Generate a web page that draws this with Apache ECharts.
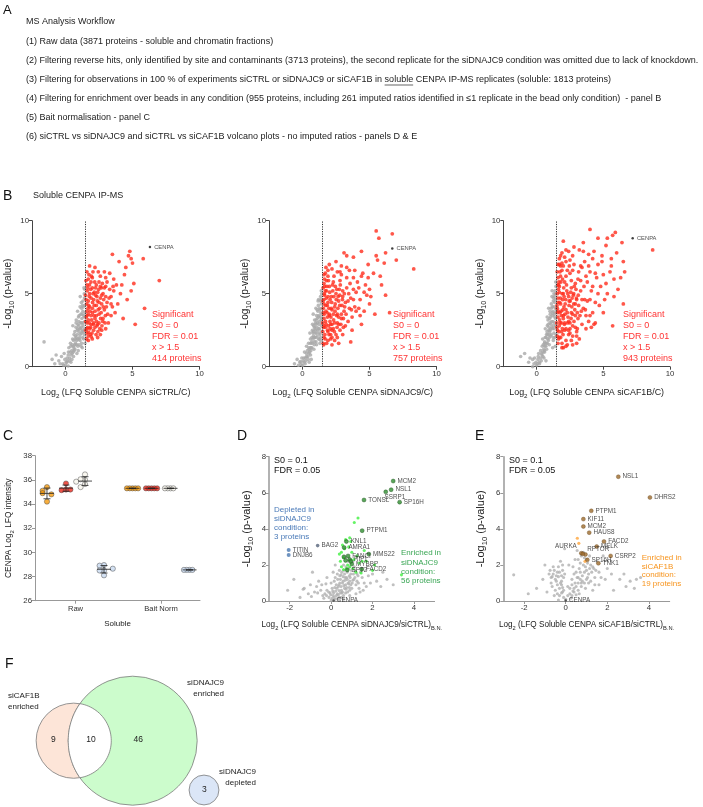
<!DOCTYPE html>
<html><head><meta charset="utf-8">
<script src="https://cdn.jsdelivr.net/npm/echarts@6/dist/echarts.min.js"></script>
<style>html,body{margin:0;padding:0;background:#fff}#c{width:703px;height:807px}</style>
</head><body><div id="c"></div>
<script>
// ---------------- DATA ----------------
const workflowTitle = 'MS Analysis Workflow';
const workflowSteps = [
 '(1) Raw data (3871 proteins - soluble and chromatin fractions)',
 '(2) Filtering reverse hits, only identified by site and contaminants (3713 proteins), the second replicate for the siDNAJC9 condition was omitted due to lack of knockdown.',
 '(3) Filtering for observations in 100 % of experiments siCTRL or siDNAJC9 or siCAF1B in soluble CENPA IP-MS replicates (soluble: 1813 proteins)',
 '(4) Filtering for enrichment over beads in any condition (955 proteins, including 261 imputed ratios identified in \u22641 replicate in the bead only condition)  - panel B',
 '(5) Bait normalisation - panel C',
 '(6) siCTRL vs siDNAJC9 and siCTRL vs siCAF1B volcano plots - no imputed ratios - panels D & E'
];

// Panel B
const bTitles = ['siCTRL/C','siDNAJC9/C','siCAF1B/C'];
const bSigCounts = [414, 757, 943];
const bThreshold = 1.5;
const bCenpa = [[6.3,8.2],[6.7,8.1],[7.2,8.8]];
const bCtrlSig = [[4.8,7.9],[4.7,7.6],[4.0,7.2],[3.5,7.7],[4.9,7.4],[5.8,7.4],[4.5,6.8],[5.0,7.1],[4.4,6.3],[7.0,5.9],[5.2,2.9],[5.9,4.0],[5.1,5.7],[4.9,5.2],[4.2,5.6],[4.3,3.3],[3.4,4.8],[3.7,3.7],[3.9,4.3],[3.3,6.4],[2.9,6.5],[2.6,6.2],[2.2,6.8],[1.8,6.9],[2.0,6.1],[2.5,5.8],[3.0,5.5],[3.6,5.2],[3.8,5.6],[4.6,4.6],[2.4,2.0],[2.7,2.5],[2.0,1.9],[1.7,1.8],[1.6,2.3],[1.9,2.9],[2.2,3.3],[1.6,3.8],[1.7,4.5],[1.8,5.0],[2.0,5.4],[1.6,5.6],[1.7,6.0],[2.3,4.2],[2.5,3.6],[2.6,4.7],[2.8,5.0],[2.9,3.9],[3.1,4.4],[3.2,3.0],[3.0,2.6],[2.1,2.5],[1.9,3.5],[1.6,3.0],[1.8,4.1],[2.4,5.1],[2.7,4.3],[3.3,5.3],[2.1,4.6],[1.5,4.9],[1.55,3.4],[1.65,2.7],[2.2,3.8],[2.5,3.0],[2.8,3.3],[3.5,4.1],[3.1,5.8],[2.3,5.6],[1.9,5.8],[2.6,2.2],[3.4,3.5],[1.7,3.6],[2.0,4.0],[2.35,2.8],[1.85,2.2],[3.0,4.8],[2.15,5.1],[2.75,5.7],[3.6,6.0],[4.1,5.0],
 [1.52,2.5],[1.58,4.3],[1.62,5.2],[1.7,3.2],[1.78,4.8],[1.82,2.6],[1.88,5.3],[1.95,3.2],[2.02,4.4],[2.08,2.9],[2.12,3.5],[2.18,5.8],[2.25,4.9],[2.32,3.1],[2.38,4.5],[2.42,2.4],[2.48,5.3],[2.55,4.0],[2.62,3.3],[2.68,5.4],[2.72,2.8],[2.85,4.6],[2.95,3.0],[1.53,5.9],[1.57,1.9],[1.68,4.0],[1.92,2.05],[2.28,2.2],[2.05,6.5],[1.75,6.3],
 [1.51,3.1],[1.54,4.6],[1.59,2.6],[1.61,3.5],[1.66,5.4],[1.69,2.1],[1.73,4.2],[1.76,3.0],[1.79,5.6],[1.83,3.8],[1.87,2.7],[1.91,4.7],[1.94,6.2],[1.98,2.3],[2.01,3.7],[2.06,5.0],[2.1,3.0],[2.14,4.2],[2.2,2.7],[2.24,5.4],[2.3,3.5],[2.34,4.8],[2.4,2.9],[2.44,3.9],[2.5,4.4],[2.56,2.6],[2.6,5.5],[2.66,3.7],[2.7,4.9],[2.78,3.1],[2.82,4.1],[2.9,5.4],[2.98,3.5],[3.05,4.1],[3.15,3.6],[3.25,4.7],[3.4,4.3],[3.55,5.5],[3.0,6.1],[2.45,6.5],[1.6,6.5],[1.72,2.35]];
const bCtrlNs = [[0,0.1],[0.1,0.3],[-0.2,0.2],[0.2,0.05],[0.3,0.6],[-0.5,0.4],[-0.8,0.2],[-1.0,0.5],[-0.3,0.7],[0.5,0.9],[0.4,1.4],[0.6,1.8],[0.7,1.2],[0.8,2.0],[0.9,2.6],[1.0,1.5],[1.1,2.2],[1.2,3.0],[1.3,2.5],[1.4,3.4],[1.0,3.1],[0.9,3.8],[1.2,4.0],[1.3,4.5],[1.4,5.0],[1.1,4.8],[1.45,4.2],[1.35,1.9],[1.2,1.6],[0.95,1.1],[0.6,0.7],[0.35,1.0],[0.2,0.8],[0.7,2.4],[0.8,3.2],[1.0,2.4],[1.15,3.6],[1.3,3.8],[1.4,2.2],[0.5,1.5],[0.15,0.4],[-0.1,0.9],[0.55,2.8],[0.75,1.6],[0.85,0.9],[1.05,2.0],[1.25,1.3],[1.45,1.6],[0.4,0.3],[0.65,1.1],[1.38,5.4],[-1.6,1.7],[-0.7,0.8],[0.25,1.3],[1.18,2.7],[0.9,1.9],
 [0.62,1.3],[0.72,1.9],[0.82,1.5],[0.88,2.2],[0.98,2.8],[1.08,1.8],[1.12,2.6],[1.22,3.3],[1.28,2.0],[1.32,3.0],[1.42,2.6],[1.02,3.5],[1.18,4.4],[0.78,2.7],[0.58,1.0],[0.48,0.5],[1.33,4.1],[1.44,3.1],[0.92,1.4],[1.25,2.4],
 [1.46,3.7],[1.41,4.7],[1.36,3.5],[1.31,2.8],[1.27,4.2],[1.23,3.6],[1.19,2.3],[1.14,3.0],[1.09,4.1],[1.06,2.6],[1.01,1.9],[0.97,3.4],[0.93,2.9],[0.87,2.5],[0.83,1.8],[0.79,3.0],[0.74,2.1],[0.69,1.5],[0.64,2.2],[0.59,1.4],[0.53,1.9],[0.47,1.1],[0.42,0.8],[0.37,1.6],[0.3,0.4],[0.22,1.0],[0.12,0.6],[0.05,0.3],[-0.05,0.5],[-0.15,0.1],[-0.4,0.2],[1.43,5.3],[1.37,2.4],[1.16,1.4]];
const bDnaSig = [[5.5,9.3],[6.7,9.1],[5.7,8.8],[6.2,7.8],[5.5,7.6],[5.6,7.3],[7.0,7.3],[6.1,7.1],[8.3,6.7],[4.4,7.9],[3.1,7.8],[3.3,7.6],[3.8,7.5],[4.9,6.1],[5.0,5.3],[5.9,5.6],[6.2,4.9],[5.4,3.6],[4.3,3.5],[5.0,4.3],[4.6,3.8],[3.6,1.7],[6.5,3.7],[4.0,5.1],[4.7,5.6],[4.3,4.6],[3.8,6.1],[3.5,6.6],[2.9,6.9],[2.6,6.5],[2.2,6.7],[1.9,6.2],[2.3,5.8],[2.8,5.9],[3.3,5.4],[3.6,4.7],[3.9,4.1],[3.1,3.8],[2.6,3.0],[2.1,2.2],[1.8,1.6],[2.4,1.8],[1.6,2.0],[1.7,2.7],[1.6,3.3],[1.55,4.0],[1.6,4.6],[1.7,5.2],[1.9,4.4],[2.0,3.6],[2.2,2.9],[2.4,4.1],[2.5,5.0],[2.7,4.5],[2.9,3.6],[3.2,4.4],[3.0,5.2],[2.0,5.5],[1.8,5.9],[1.6,5.7],[2.35,6.2],[3.4,3.1],[2.8,2.5],[3.7,3.4],[1.9,2.4],[1.55,1.6],[1.75,3.8],[2.15,4.8],[2.55,3.5],[2.05,3.1],[1.65,4.9],[2.75,5.3],[3.45,5.0],[4.1,5.8],[4.5,6.4],[3.2,2.8],[1.85,4.2],[2.3,2.6],[2.6,2.0],[3.0,4.8],[2.45,5.5],[1.7,6.4],[3.9,6.6],[4.8,4.9],[5.3,6.4],[2.1,1.9],[1.6,2.8],[2.9,6.3],[3.5,4.0],[4.2,4.0],[2.2,3.9],
 [1.52,2.4],[1.56,3.7],[1.6,4.3],[1.63,5.0],[1.67,2.2],[1.72,3.1],[1.78,4.7],[1.82,5.5],[1.86,3.4],[1.93,2.8],[1.97,4.0],[2.03,5.1],[2.08,2.6],[2.12,3.4],[2.18,4.4],[2.26,5.2],[2.32,3.2],[2.38,2.4],[2.43,3.8],[2.52,4.6],[2.58,2.7],[2.64,4.0],[2.7,3.4],[2.78,4.9],[2.86,2.9],[2.95,4.2],[3.05,3.3],[3.12,5.0],[1.54,5.4],[1.64,6.0],[1.9,6.6],[2.2,2.0],[1.58,1.5],[2.8,6.5],[3.3,6.1],[3.8,5.3],
 [1.51,3.0],[1.53,4.5],[1.57,2.7],[1.61,3.6],[1.65,5.5],[1.69,1.9],[1.73,4.2],[1.76,2.9],[1.79,5.2],[1.83,3.7],[1.87,2.5],[1.91,4.8],[1.94,5.9],[1.98,2.2],[2.01,3.5],[2.06,4.6],[2.1,2.9],[2.14,4.0],[2.2,2.5],[2.24,5.6],[2.3,3.6],[2.34,4.8],[2.4,3.0],[2.44,4.3],[2.5,2.2],[2.56,5.3],[2.6,3.6],[2.66,4.8],[2.7,2.9],[2.78,4.2],[2.82,5.6],[2.9,3.3],[2.98,4.6],[3.05,2.7],[3.15,4.1],[3.25,3.6],[3.4,4.5],[3.55,5.7],[3.65,3.9],[3.8,4.6],[4.0,3.8],[4.2,5.4],[4.4,6.2],[4.6,5.1],[3.3,6.8],[2.5,7.2],[2.0,7.0],[1.75,6.8],[1.6,6.3],[3.0,2.2],[2.7,1.6],[2.2,1.5],[1.9,1.8],[3.7,2.5],[4.4,2.9],[5.1,4.8],[5.8,6.2],[4.9,7.0]];
const bDnaNs = [[0,0.1],[-0.2,0.3],[0.2,0.2],[-0.4,0.5],[0.1,0.6],[0.3,0.9],[0.5,1.2],[0.4,0.7],[0.6,1.6],[0.7,2.0],[0.8,2.4],[0.9,1.7],[1.0,2.9],[1.1,3.3],[1.2,2.6],[1.3,3.9],[1.4,4.3],[1.35,2.0],[1.2,4.6],[1.4,5.2],[1.0,4.0],[0.9,3.2],[0.75,2.9],[1.1,2.1],[1.25,3.1],[1.45,3.6],[1.3,1.6],[0.85,1.2],[0.6,0.8],[0.25,0.4],[-0.1,0.15],[0.15,1.0],[0.55,2.3],[0.95,2.3],[1.15,3.8],[1.05,1.5],[0.7,1.3],[0.45,1.6],[1.4,2.8],[1.35,4.8],[0.8,3.6],[1.0,2.0],[0.3,1.4],[-0.6,0.2],[0.65,0.5],[1.2,1.9],[1.45,4.0],[0.9,2.7],[0.5,0.3],[1.05,3.5],[1.25,2.3],[1.38,3.2],
 [0.62,1.1],[0.72,1.6],[0.82,2.1],[0.88,1.5],[0.98,2.5],[1.08,2.7],[1.12,3.0],[1.22,3.5],[1.28,2.6],[1.32,3.4],[1.42,2.4],[1.02,3.2],[1.18,4.2],[0.78,2.3],[0.58,1.3],[0.48,0.9],[1.33,4.5],[1.44,3.0],[0.92,2.0],[1.25,1.9],
 [1.46,3.3],[1.41,4.6],[1.36,3.7],[1.31,2.2],[1.27,4.0],[1.23,2.9],[1.19,3.4],[1.14,2.5],[1.09,3.9],[1.06,2.3],[1.01,1.7],[0.97,3.0],[0.93,2.6],[0.87,2.0],[0.83,2.8],[0.79,1.9],[0.74,2.5],[0.69,1.7],[0.64,1.3],[0.59,1.9],[0.53,1.0],[0.47,1.3],[0.42,0.5],[0.37,1.1],[0.3,0.7],[0.22,0.6],[0.12,0.3],[0.05,0.4],[-0.05,0.6],[-0.15,0.35],[-0.3,0.1],[1.43,5.0],[1.37,1.8],[1.16,4.5]];
const bCafSig = [[4.0,9.4],[5.9,9.2],[5.7,9.0],[4.6,8.8],[6.4,8.5],[5.3,8.8],[2.0,8.6],[3.5,8.5],[8.7,8.0],[6.6,6.5],[6.3,6.1],[6.5,4.3],[5.8,4.8],[5.3,5.0],[4.7,4.2],[4.4,4.4],[4.2,3.7],[3.7,3.5],[4.3,2.9],[5.7,2.8],[3.4,2.9],[2.9,2.7],[5.0,6.3],[5.6,6.9],[5.6,7.4],[4.9,7.6],[4.3,7.9],[3.9,7.7],[3.2,8.0],[2.7,7.6],[2.4,7.9],[1.9,7.8],[1.7,7.4],[2.2,7.2],[2.8,7.0],[3.4,6.8],[4.0,6.5],[4.5,6.1],[3.8,5.8],[3.1,6.0],[2.5,6.4],[1.9,6.6],[1.6,6.1],[1.7,5.5],[2.1,5.8],[2.6,5.4],[3.3,5.2],[3.6,4.6],[2.9,4.3],[2.4,4.8],[2.0,5.0],[1.6,4.7],[1.55,4.0],[1.8,4.3],[2.2,3.9],[2.7,3.6],[3.1,3.3],[2.5,3.0],[2.0,3.3],[1.6,3.4],[1.7,2.8],[2.1,2.5],[2.4,2.2],[1.8,2.0],[1.6,1.6],[2.0,1.3],[2.6,1.8],[3.0,2.1],[1.9,1.6],[2.3,1.5],[1.65,2.4],[1.75,3.7],[1.95,4.6],[2.35,3.4],[2.75,4.9],[3.5,4.0],[3.9,3.1],[4.8,5.5],[4.1,5.2],[2.9,5.7],[2.2,6.2],[1.8,6.9],[3.6,7.2],[4.6,7.0],[3.0,4.6],[1.7,5.1],[2.5,2.6],[1.55,2.1],[2.05,4.1],[2.6,5.9],[3.35,3.8],[4.0,4.6],[1.85,3.0],[2.45,6.9],[3.15,6.5],[5.2,5.7],[2.8,3.1],[3.7,6.2],[1.6,7.0],[2.1,7.5],
 [1.52,2.7],[1.56,3.7],[1.6,4.4],[1.63,5.3],[1.67,5.8],[1.72,3.2],[1.78,4.7],[1.82,5.8],[1.86,3.5],[1.93,2.6],[1.97,3.9],[2.03,5.4],[2.08,2.9],[2.12,3.6],[2.18,4.6],[2.26,5.2],[2.32,3.0],[2.38,2.5],[2.43,4.2],[2.52,4.5],[2.58,3.3],[2.64,4.1],[2.7,2.8],[2.78,5.0],[2.86,3.9],[2.95,5.3],[3.05,3.7],[3.12,4.9],[1.54,6.5],[1.64,1.9],[1.9,7.1],[2.3,6.6],[1.7,7.0],[2.7,6.6],[3.3,5.9],[3.0,1.6],[1.55,5.0],[2.2,1.8],
 [1.51,3.0],[1.53,4.2],[1.57,2.5],[1.61,3.8],[1.65,5.6],[1.69,2.0],[1.73,4.4],[1.76,3.0],[1.79,6.2],[1.83,3.8],[1.87,2.4],[1.91,5.0],[1.94,6.0],[1.98,2.2],[2.01,3.5],[2.06,4.8],[2.1,3.0],[2.14,4.3],[2.2,2.6],[2.24,5.6],[2.3,3.7],[2.34,5.0],[2.4,3.1],[2.44,4.5],[2.5,2.3],[2.56,5.1],[2.6,3.7],[2.66,4.7],[2.7,2.1],[2.78,4.3],[2.82,5.5],[2.9,3.5],[2.98,4.7],[3.05,2.6],[3.15,4.2],[3.25,3.5],[3.4,4.6],[3.55,5.5],[3.65,3.9],[3.8,4.5],[4.0,3.5],[4.2,5.5],[4.4,6.4],[4.6,5.0],[3.3,6.9],[2.5,7.3],[2.0,6.9],[1.75,6.5],[1.6,5.6],[3.0,2.4],[2.7,1.5],[2.2,1.4],[1.9,1.3],[3.7,2.6],[4.4,3.0],[5.1,4.6],[5.8,6.0],[4.9,7.2],[3.5,7.9],[2.8,8.2],[2.2,8.0],[1.8,7.6],[3.9,6.9],[4.2,7.4],[5.2,8.3],[6.0,7.8],[6.5,7.2],[5.5,6.5],[6.1,5.3],[5.0,3.7],[4.1,2.7],[3.2,1.9]];
const bCafNs = [[-0.3,0.0],[0,0.1],[0.2,0.3],[-0.5,0.6],[0.1,0.5],[-0.2,0.2],[0.4,0.8],[0.3,1.1],[0.5,1.5],[0.6,1.0],[0.7,2.0],[0.8,1.6],[0.9,2.5],[1.0,3.0],[1.1,2.2],[1.2,3.5],[1.3,4.1],[1.4,4.6],[1.45,5.5],[1.3,5.0],[1.1,4.3],[1.0,3.8],[0.85,3.2],[1.2,2.6],[1.35,3.0],[1.45,2.2],[1.4,3.7],[1.25,1.8],[0.95,1.5],[0.75,1.2],[0.55,0.6],[0.35,0.4],[0.65,2.6],[0.95,2.0],[1.15,4.8],[1.4,1.4],[0.45,1.9],[0.8,2.8],[1.05,2.6],[1.3,2.3],[1.35,4.4],[-0.9,0.9],[-0.3,0.5],[0.15,0.9],[0.6,1.7],[1.2,1.3],[1.45,4.0],[1.05,3.4],[0.9,4.0],[1.25,4.5],[0.7,0.4],[1.38,5.2],
 [0.62,1.4],[0.72,1.6],[0.82,2.2],[0.88,1.8],[0.98,2.4],[1.08,2.9],[1.12,3.1],[1.22,3.8],[1.28,2.8],[1.32,3.6],[1.42,3.3],[1.02,3.6],[1.18,4.1],[0.78,2.4],[0.58,1.1],[0.48,1.0],[1.33,4.8],[1.44,2.8],[0.92,2.7],[1.25,2.0],
 [1.46,3.9],[1.41,5.0],[1.36,3.4],[1.31,2.6],[1.27,4.7],[1.23,3.1],[1.19,3.7],[1.14,2.7],[1.09,4.0],[1.06,2.1],[1.01,2.5],[0.97,3.3],[0.93,2.2],[0.87,2.9],[0.83,1.9],[0.79,3.4],[0.74,2.2],[0.69,1.4],[0.64,2.0],[0.59,1.6],[0.53,1.2],[0.47,0.7],[0.42,1.4],[0.37,0.9],[0.3,0.6],[0.22,0.2],[0.12,0.7],[0.05,0.2],[-0.05,0.3],[-0.15,0.6],[-0.6,0.3],[1.43,5.8],[1.37,2.0],[1.16,5.2],[-1.2,0.7]];

// Panel C
const cGroups = ['Raw', 'Bait Norm'];
const cConditions = ['siCAF1B', 'siDNAJC9', 'siCTRL', 'Beads'];
const cRawCAF1B = [35.4, 35.1, 34.9, 34.8, 34.2];
const cRawDNAJC9 = [35.7, 35.2, 35.15, 35.2];
const cRawCTRL = [36.45, 36.0, 36.05, 35.65, 35.4, 35.85];
const cRawBeads = [28.95, 28.9, 28.5, 28.5, 28.1, 28.65];
const cNormCAF1B = [35.3, 35.3, 35.3, 35.3, 35.3];
const cNormDNAJC9 = [35.3, 35.3, 35.3, 35.3, 35.3];
const cNormCTRL = [35.3, 35.3, 35.3, 35.3];
const cNormBeads = [28.55, 28.55, 28.55, 28.55];

// Panel D
const dGray = [[0,0.05],[0.2,0.1],[0.4,0.2],[0.6,0.3],[0.8,0.5],[1.0,0.7],[0.3,0.4],[0.5,0.6],[0.7,0.9],[0.9,1.1],[0.1,0.3],[-0.1,0.2],[-0.3,0.4],[-0.5,0.6],[-0.7,0.8],[-0.2,0.6],[0.35,0.8],[0.55,1.0],[0.75,1.3],[0.95,1.5],[1.1,1.2],[1.2,0.9],[1.3,1.4],[0.45,1.2],[0.65,1.5],[0.25,0.9],[0.15,1.1],[0.05,0.7],[-0.4,0.3],[-0.8,0.5],[-1.0,0.9],[-0.6,1.1],[-1.3,0.7],[-0.9,1.6],[0.85,1.8],[0.6,2.0],[0.4,1.7],[1.05,2.2],[1.5,1.3],[1.7,0.8],[1.4,0.5],[2.2,1.1],[2.7,1.2],[2.4,0.8],[2.0,1.5],[-1.5,0.2],[-2.1,0.6],[0.9,0.3],[1.2,0.4],[0.5,0.2],[-0.2,1.3],[0.3,1.5],[0.0,1.0],[0.7,2.4],[0.2,2.0],[1.6,1.0],[-1.8,1.2],[-1.1,0.4],[0.1,1.6],[1.15,1.7],[0.32,0.15],[0.52,0.45],[0.72,0.65],[0.62,0.85],[0.82,1.0],[0.42,1.0],[0.22,0.55],[1.02,1.0],[0.88,0.75],[0.38,0.58],[0.68,1.15],[0.78,1.6],[0.58,1.35],[0.12,0.45],[-0.05,0.45],[1.25,1.1],[1.35,0.7],[1.8,1.4],[2.5,1.6],[3.0,0.9],[-0.45,0.9],[-0.25,0.95],[-0.65,0.45],[0.48,1.45],[0.92,1.3],
 [0.05,0.15],[0.15,0.2],[0.25,0.3],[0.35,0.35],[0.45,0.45],[0.55,0.5],[0.65,0.7],[0.75,0.75],[0.85,0.95],[0.95,0.9],[1.05,1.15],[1.15,1.3],[1.25,1.5],[0.28,0.7],[0.38,0.9],[0.48,0.8],[0.58,1.1],[0.68,1.3],[0.78,1.2],[0.88,1.4],[0.98,1.7],[1.08,1.5],[0.18,0.75],[0.08,0.55],[-0.02,0.35],[-0.12,0.5],[-0.22,0.3],[0.62,1.7],[0.72,1.9],[0.52,1.6],[0.42,1.4],[0.32,1.2],[0.82,2.2],[1.12,1.9],[1.32,1.0],[1.42,1.6],[0.9,0.6],[0.7,0.45],[0.4,0.05],[0.6,0.1],[-0.35,0.15],[0.2,1.3],[1.55,0.6],[1.9,1.0],[-1.35,0.65],[-0.95,0.25]];
const dEnrichedLight = [[1.3,4.6],[1.12,4.35],[0.95,3.3],[0.55,3.1],[0.5,2.7],[0.6,2.4],[0.45,2.2],[0.8,2.0],[0.9,1.9],[1.1,2.3],[1.35,2.1],[2.1,2.0],[2.0,1.7],[3.4,1.45],[1.6,2.8],[0.7,3.4],[0.75,1.8],[1.2,1.6],[0.4,2.6],[1.0,2.7],[1.5,2.2],[0.65,2.9],[1.7,2.2],[0.85,3.0],[0.5,1.9],[1.25,2.5],[0.6,1.75],[1.45,1.55],[0.9,3.5],[1.05,1.8]];
const dEnrichedNamed = [[3.0,6.65,'MCM2'],[2.9,6.17,'NSL1'],[2.64,6.05,'SSRP1'],[3.31,5.48,'SP16H'],[1.59,5.6,'TONSL'],[1.5,3.9,'PTPM1'],[0.74,3.3,'KNL1'],[0.63,2.96,'AMRA1'],[0.82,2.5,'FANCI'],[1.82,2.6,'MMS22'],[0.9,2.3,'RIF1'],[1.0,2.05,'MYBBP'],[0.78,1.72,'SPT2'],[1.48,1.76,'FACD2'],[0.62,2.45,''],[0.7,2.25,''],[0.95,2.2,'']];
const dDepleted = [[-2.05,2.83,'TITIN'],[-2.05,2.55,'DNJB6']];
const dOtherNamed = [[-0.65,3.07,'BAG2']];
const dCenpa = [[0.12,0.03,'CENPA']];
const dCounts = {enriched: 56, depleted: 3};

// Panel E
const eGray = [[-0.3,0.3],[-0.5,0.6],[-0.7,1.0],[-0.9,0.5],[-0.2,0.9],[0,0.1],[-0.1,1.3],[-0.4,1.6],[-0.6,1.9],[-0.25,2.2],[-0.05,2.9],[0.2,0.4],[0.4,0.7],[0.6,1.0],[0.8,1.4],[1.0,1.7],[1.2,2.0],[0.5,1.6],[0.7,2.1],[0.9,2.4],[0.3,1.2],[1.1,1.0],[1.4,1.3],[1.6,0.9],[1.9,1.2],[2.3,0.6],[2.6,1.2],[3.1,1.1],[3.4,1.2],[2.9,0.8],[3.6,1.3],[-1.1,1.2],[-1.4,0.7],[-1.8,0.4],[0.1,0.8],[0.65,0.4],[1.3,0.6],[0.45,2.3],[0.85,2.7],[1.15,2.5],[1.5,2.2],[1.8,2.5],[0.35,1.9],[-0.8,1.5],[-1.0,2.0],[0.15,2.0],[-0.35,0.05],[0.95,0.7],[1.25,1.6],[2.0,1.8],[-2.5,1.45],[0.55,2.8],[-0.15,1.7],[-0.45,1.1],[-0.55,0.3],[-0.15,0.5],[0.25,0.15],[0.5,0.35],[0.75,0.8],[0.7,1.2],[0.9,1.0],[1.05,1.3],[0.6,0.6],[0.35,0.55],[-0.65,1.35],[-0.35,1.35],[-0.2,1.1],[1.35,1.8],[1.6,1.6],[2.2,1.5],[2.8,1.5],[3.3,0.7],
 [-0.1,0.2],[-0.2,0.45],[-0.3,0.7],[-0.4,0.9],[-0.5,1.2],[-0.6,1.5],[-0.15,0.75],[-0.25,1.0],[-0.35,1.9],[-0.45,1.4],[-0.55,1.7],[-0.7,1.3],[-0.05,1.5],[-0.15,2.0],[-0.3,1.6],[-0.4,0.4],[-0.2,1.4],[-0.1,0.6],[-0.65,0.8],[-0.75,1.7],
 [0.3,0.3],[0.4,0.5],[0.5,0.8],[0.6,1.3],[0.7,1.6],[0.8,1.1],[0.9,1.6],[1.0,1.2],[1.1,1.5],[1.2,1.1],[0.45,1.0],[0.55,1.3],[0.65,1.8],[0.75,1.0],[0.85,2.0],[0.95,1.9],[1.05,2.1],[1.15,1.8],[1.3,1.9],[0.4,1.5],[0.3,0.9],[0.2,0.7],[0.1,0.3],[1.4,0.9],[1.7,1.3],[1.45,1.7],[0.6,2.3],[0.75,2.5],[1.0,2.3]];
const eEnrichedNamed = [[2.53,6.89,'NSL1'],[4.05,5.74,'DHRS2'],[1.23,5.0,'PTPM1'],[0.85,4.54,'KIF11'],[0.85,4.13,'MCM2'],[1.13,3.79,'HAUS8'],[1.84,3.3,'FACD2'],[1.49,3.02,'MELK'],[0.75,2.65,'AURKA'],[0.95,2.58,'RPTOR'],[2.16,2.5,'CSRP2'],[1.04,2.28,'SP16H'],[1.57,2.09,'TNK1'],[0.82,2.62,'']];
const eEnrichedLight = [[0.56,3.48],[0.63,3.2],[0.93,2.2]];
const eCenpa = [[0.0,0.03,'CENPA']];
const eCounts = {enriched: 19};

// Panel F (Venn counts)
const vennOnlyCAF1B = 9, vennBoth = 10, vennOnlyDNAJC9 = 46, vennDepleted = 3;

// ---------------- STYLE / BUILD ----------------
const FF = '"Liberation Sans", Arial, Helvetica, sans-serif';
const TXT = '#222';
function rich(fs){ return {a:{fontSize:fs, lineHeight:fs+5, color:TXT, fontFamily:FF}, s:{fontSize:Math.round(fs*0.7*10)/10, lineHeight:fs+5, verticalAlign:'bottom', color:TXT, fontFamily:FF}}; }
const yLogName = '{a|-Log}{s|10}{a| (p-value)}';

const grids = [
  {left:32, top:220.7, width:167.5, height:146},
  {left:269, top:220.7, width:167.5, height:146},
  {left:503.3, top:220.7, width:166.7, height:146},
  {left:35, top:455.7, width:165, height:145},
  {left:269, top:456.7, width:165.6, height:144.3},
  {left:503.3, top:456.7, width:166.4, height:144.3}
];
function axBase(color){ return {
  axisLine:{show:true, onZero:false, lineStyle:{color:color, width:1}},
  axisTick:{show:true, length:3, lineStyle:{color:color, width:1}},
  axisLabel:{fontSize:7.8, color:'#333', margin:3, fontFamily:FF},
  splitLine:{show:false}, nameTextStyle:{fontFamily:FF, color:TXT}
};}
const xAxes = [], yAxes = [], series = [];
// B
for (let i=0;i<3;i++){
  xAxes.push(Object.assign(axBase('#444'), {type:'value', gridIndex:i, min:-2.5, max:10,
    axisLabel:{fontSize:7.8, color:'#333', margin:3, fontFamily:FF, customValues:[0,5,10]},
    axisTick:{show:true,length:3,lineStyle:{color:'#444'},customValues:[0,5,10]},
    name:'{a|Log}{s|2}{a| (LFQ Soluble CENPA '+bTitles[i]+')}', nameLocation:'middle', nameGap:19,
    nameTextStyle:{rich:rich(8.9)}}));
  yAxes.push(Object.assign(axBase('#444'), {type:'value', gridIndex:i, min:0, max:10, interval:5,
    name:yLogName, nameLocation:'middle', nameGap:16, nameRotate:90, nameTextStyle:{rich:rich(10)}}));
}
const bSig = [bCtrlSig, bDnaSig, bCafSig], bNs = [bCtrlNs, bDnaNs, bCafNs];
for (let i=0;i<3;i++){
  series.push({type:'scatter', xAxisIndex:i, yAxisIndex:i, data:bNs[i], symbolSize:3.6, itemStyle:{color:'#a9a9a9'}, silent:true});
  series.push({type:'scatter', xAxisIndex:i, yAxisIndex:i, data:bSig[i], symbolSize:3.8, itemStyle:{color:'#ff2d1d'}, silent:true,
    markLine:{silent:true, symbol:['none','none'], label:{show:false}, lineStyle:{type:[1.2,1.2], color:'#333', width:1}, data:[{xAxis:bThreshold}]}});
  series.push({type:'scatter', xAxisIndex:i, yAxisIndex:i, data:[bCenpa[i]], symbolSize:2.5, itemStyle:{color:'#111'},
    label:{show:true, position:'right', distance:3, formatter:'CENPA', fontSize:5.8, color:'#222', fontFamily:FF}});
}
// C
const cSlot = (g,c) => g*4.5 + c;
xAxes.push(Object.assign(axBase('#999'), {type:'value', gridIndex:3, min:-0.63, max:8.05,
  axisTick:{show:true, length:3, lineStyle:{color:'#999'}, customValues:cGroups.map((g,gi)=>cSlot(gi,1.5))},
  axisLabel:{fontSize:7.6, color:'#333', margin:4, fontFamily:FF, customValues:cGroups.map((g,gi)=>cSlot(gi,1.5)),
    formatter:v=>cGroups[Math.round((v-1.5)/4.5)]},
  name:'Soluble', nameLocation:'middle', nameGap:19, nameTextStyle:{fontSize:8, color:TXT, fontFamily:FF}}));
yAxes.push(Object.assign(axBase('#999'), {type:'value', gridIndex:3, min:26, max:38, interval:2,
  name:'{a|CENPA Log}{s|2}{a| LFQ intensity}', nameLocation:'middle', nameGap:20, nameRotate:90, nameTextStyle:{rich:rich(8.4)}}));
const cColors = ['#f59a0c','#e8281c','#f7f5ec','#c8d9f0'];
const cData = [[cRawCAF1B,cRawDNAJC9,cRawCTRL,cRawBeads],[cNormCAF1B,cNormDNAJC9,cNormCTRL,cNormBeads]];
const errData = [];
function spread(vals, step){
  return vals.map((v,i)=>{ let n=0; for(let j=0;j<i;j++) if(Math.abs(vals[j]-v)<0.35) n++;
    const k = n===0?0:(n%2? -Math.ceil(n/2) : n/2); return k*step; });
}
cData.forEach((grp,gi)=>grp.forEach((vals,ci)=>{
  const offs = spread(vals, gi===0?4.4:2.8);
  series.push({type:'scatter', xAxisIndex:3, yAxisIndex:3, symbolSize:5.2, silent:true,
    itemStyle:{color:cColors[ci], borderColor:'#4a4a4a', borderWidth:0.6},
    data: vals.map((v,k)=>({value:[cSlot(gi,ci), v], symbolOffset:[offs[k],0]}))});
  const m = vals.reduce((a,b)=>a+b,0)/vals.length;
  const sd = Math.sqrt(vals.reduce((a,b)=>a+(b-m)*(b-m),0)/Math.max(1,vals.length-1));
  errData.push([cSlot(gi,ci), m, sd]);
}));
series.push({type:'custom', xAxisIndex:3, yAxisIndex:3, data:errData, z:5, silent:true,
  renderItem:(p,api)=>{
    const x=api.value(0), m=api.value(1), s=api.value(2);
    const c=api.coord([x,m]), t=api.coord([x,m+s]), b=api.coord([x,m-s]);
    const st={stroke:'#222', lineWidth:0.8};
    return {type:'group', children:[
      {type:'line', shape:{x1:c[0],y1:t[1],x2:c[0],y2:b[1]}, style:st},
      {type:'line', shape:{x1:c[0]-3.5,y1:t[1],x2:c[0]+3.5,y2:t[1]}, style:st},
      {type:'line', shape:{x1:c[0]-3.5,y1:b[1],x2:c[0]+3.5,y2:b[1]}, style:st},
      {type:'line', shape:{x1:c[0]-7,y1:c[1],x2:c[0]+7,y2:c[1]}, style:st}
    ]};
  }});
// D & E
const dexTitle = ['siDNAJC9/siCTRL','siCAF1B/siCTRL'];
for (let k=0;k<2;k++){
  const gi = 4+k;
  xAxes.push(Object.assign(axBase('#999'), {type:'value', gridIndex:gi, min:-3, max:5,
    axisTick:{show:true,length:3,lineStyle:{color:'#999'},customValues:[-2,0,2,4]},
    axisLabel:{fontSize:7.8, color:'#333', margin:3, fontFamily:FF, customValues:[-2,0,2,4]},
    name:'{a|Log}{s|2}{a| (LFQ Soluble CENPA '+dexTitle[k]+')}{s|B.N.}', nameLocation:'middle', nameGap:17,
    nameTextStyle:{rich:rich(8.2)}}));
  yAxes.push(Object.assign(axBase('#999'), {type:'value', gridIndex:gi, min:0, max:8, interval:2,
    axisLine:{show:true,onZero:false,lineStyle:{color:'#999',width:1.5}},
    name:yLogName, nameLocation:'middle', nameGap:14, nameRotate:90, nameTextStyle:{rich:rich(11)}}));
}
const lblStyle = {show:true, position:'right', distance:2, fontSize:6.3, color:'#222', fontFamily:FF, formatter:p=>p.data.value[2]};
const labelPos = {SSRP1:[1,5], AURKA:[-24,-8], RPTOR:[4,-6]};
function named(arr){ return arr.map(d=>{ const o={value:[d[0],d[1],d[2]]}; if(labelPos[d[2]]) o.label={position:labelPos[d[2]]}; return o; }); }
function gray(xi, arr){ return {type:'scatter', xAxisIndex:xi, yAxisIndex:xi, data:arr, symbolSize:3.1, itemStyle:{color:'#b0b0b0'}, silent:true}; }
series.push(gray(4, dGray));
series.push({type:'scatter', xAxisIndex:4, yAxisIndex:4, data:dEnrichedLight, symbolSize:3.1, itemStyle:{color:'#3ef03e'}, silent:true});
series.push({type:'scatter', xAxisIndex:4, yAxisIndex:4, data:named(dEnrichedNamed), symbolSize:4, itemStyle:{color:'#2f8f2f', borderColor:'#1c4d1c', borderWidth:0.5}, label:lblStyle, silent:true});
series.push({type:'scatter', xAxisIndex:4, yAxisIndex:4, data:named(dDepleted), symbolSize:4, itemStyle:{color:'#4a78b0'}, label:lblStyle, silent:true});
series.push({type:'scatter', xAxisIndex:4, yAxisIndex:4, data:named(dOtherNamed), symbolSize:3.6, itemStyle:{color:'#56647a'}, label:lblStyle, silent:true});
series.push({type:'scatter', xAxisIndex:4, yAxisIndex:4, data:named(dCenpa), symbolSize:2.5, itemStyle:{color:'#333'}, label:lblStyle, silent:true});
series.push(gray(5, eGray));
series.push({type:'scatter', xAxisIndex:5, yAxisIndex:5, data:eEnrichedLight, symbolSize:3.2, itemStyle:{color:'#ffa53c'}, silent:true});
series.push({type:'scatter', xAxisIndex:5, yAxisIndex:5, data:named(eEnrichedNamed), symbolSize:4, itemStyle:{color:'#9c6a2c', borderColor:'#5a3c14', borderWidth:0.4}, label:lblStyle, silent:true});
series.push({type:'scatter', xAxisIndex:5, yAxisIndex:5, data:named(eCenpa), symbolSize:2.5, itemStyle:{color:'#333'}, label:lblStyle, silent:true});

// ---------------- GRAPHIC (text, Venn) ----------------
const G = [];
function txt(x,y,text,fs,color,opt){ const st=Object.assign({text:text, fontSize:fs, fontFamily:FF, fill:color||TXT, align:'left', verticalAlign:'middle', textAlign:'left', textVerticalAlign:'middle'}, opt||{}); G.push({type:'text', x:x, y:y, silent:true, style:st}); }
// Panel A
const wfFs = 9, wfX = 26;
txt(3, 10, 'A', 13, '#111');
txt(wfX, 22, workflowTitle, wfFs);
workflowSteps.forEach((s,i)=>txt(wfX, 42+19*i, s, wfFs));
(function(){ const ctx=document.createElement('canvas').getContext('2d'); ctx.font=wfFs+'px "Liberation Sans"';
  const pre=workflowSteps[2].split('soluble')[0]; const ux=wfX+ctx.measureText(pre).width, uw=ctx.measureText('soluble').width;
  G.push({type:'line', silent:true, shape:{x1:ux,y1:42+19*2+5,x2:ux+uw,y2:42+19*2+5}, style:{stroke:'#222', lineWidth:0.7}}); })();
// Panel B
txt(3, 196, 'B', 14, '#111');
txt(33, 196, 'Soluble CENPA IP-MS', 9);
const sigX = [152, 393, 623];
for (let i=0;i<3;i++) txt(sigX[i], 309.6, ['Significant','S0 = 0','FDR = 0.01','x > '+bThreshold, bSigCounts[i]+' proteins'].join('\n'), 9, '#ff3333', {verticalAlign:'top', textVerticalAlign:'top', lineHeight:10.8});
// Panels C D E
txt(3, 436.5, 'C', 14, '#111');
txt(237, 436.5, 'D', 14, '#111');
txt(475, 436.5, 'E', 14, '#111');
txt(274, 456, 'S0 = 0.1\nFDR = 0.05', 9, '#111', {verticalAlign:'top', textVerticalAlign:'top', lineHeight:10});
txt(274, 504.7, 'Depleted in\nsiDNAJC9\ncondition:\n'+dCounts.depleted+' proteins', 8, '#4a7ab8', {verticalAlign:'top', textVerticalAlign:'top', lineHeight:9.2});
txt(401, 548.3, 'Enriched in\nsiDNAJC9\ncondition:\n'+dCounts.enriched+' proteins', 8, '#3aa655', {verticalAlign:'top', textVerticalAlign:'top', lineHeight:9.4});
txt(509, 456, 'S0 = 0.1\nFDR = 0.05', 9, '#111', {verticalAlign:'top', textVerticalAlign:'top', lineHeight:10});
txt(641.7, 553, 'Enriched in\nsiCAF1B\ncondition:\n'+eCounts.enriched+' proteins', 8, '#f7941d', {verticalAlign:'top', textVerticalAlign:'top', lineHeight:8.9});
// Panel F: Venn (area-proportional radii)
txt(5, 664, 'F', 14, '#111');
const kR = 64.5/Math.sqrt(vennOnlyDNAJC9+vennBoth);
const rC = kR*Math.sqrt(vennOnlyCAF1B+vennBoth), rD = kR*Math.sqrt(vennOnlyDNAJC9+vennBoth), rP = kR*Math.sqrt(vennDepleted);
const cC = [73.7, 740.7], cD = [132.7, 740.7], cP = [204, 790];
G.push({type:'circle', silent:true, shape:{cx:cC[0], cy:cC[1], r:rC}, style:{fill:'#fde5d8', stroke:'#7a7a7a', lineWidth:0.8}});
G.push({type:'circle', silent:true, shape:{cx:cD[0], cy:cD[1], r:rD}, style:{fill:'#ccfccc', stroke:'#7a7a7a', lineWidth:0.8}});
(function(){ const d=cD[0]-cC[0]; const a=(d*d+rC*rC-rD*rD)/(2*d); const h=Math.sqrt(rC*rC-a*a);
  const tC=Math.atan2(h,a), tD=Math.atan2(h,a-d);
  const pts=[]; const N=48;
  for(let i=0;i<=N;i++){ const t=-tC+2*tC*i/N; pts.push([cC[0]+rC*Math.cos(t), cC[1]+rC*Math.sin(t)]); }
  for(let i=0;i<=N;i++){ const t=tD+(2*Math.PI-2*tD)*i/N; pts.push([cD[0]+rD*Math.cos(t), cD[1]+rD*Math.sin(t)]); }
  G.push({type:'polygon', silent:true, shape:{points:pts}, style:{fill:'#ffffff', stroke:'#7a7a7a', lineWidth:0.8}}); })();
G.push({type:'circle', silent:true, shape:{cx:cP[0], cy:cP[1], r:rP}, style:{fill:'#dbe6f7', stroke:'#7a7a7a', lineWidth:0.8}});
txt(53.3, 740, String(vennOnlyCAF1B), 8.5, TXT, {align:'center', textAlign:'center'});
txt(91, 740, String(vennBoth), 8.5, TXT, {align:'center', textAlign:'center'});
txt(138.3, 740, String(vennOnlyDNAJC9), 8.5, TXT, {align:'center', textAlign:'center'});
txt(204.3, 790, String(vennDepleted), 8.5, TXT, {align:'center', textAlign:'center'});
txt(8, 701, 'siCAF1B\nenriched', 8, TXT, {lineHeight:10.7});
txt(224, 688, 'siDNAJC9\nenriched', 8, TXT, {lineHeight:11, align:'right', textAlign:'right'});
txt(256, 777, 'siDNAJC9\ndepleted', 8, TXT, {lineHeight:10.6, align:'right', textAlign:'right'});

const chart = echarts.init(document.getElementById('c'), null, {renderer:'canvas', width:703, height:807});
chart.setOption({
  animation:false, backgroundColor:'#fff',
  textStyle:{fontFamily:FF},
  grid:grids, xAxis:xAxes, yAxis:yAxes, series:series,
  graphic:{elements:G}
});
</script></body></html>
